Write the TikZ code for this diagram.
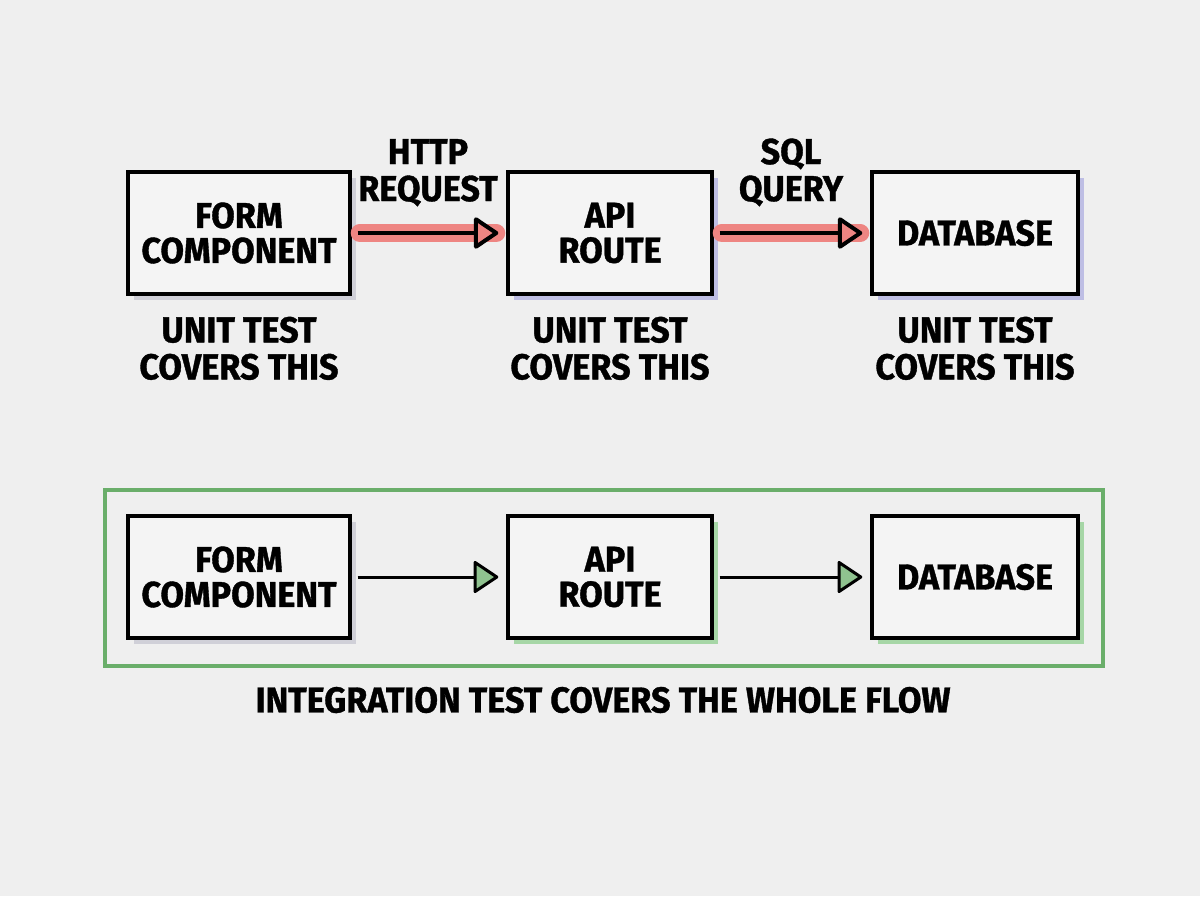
\documentclass[tikz,border=0pt]{standalone}
\usepackage{fontspec}
\setmainfont{Fira Sans}[FakeStretch=0.95, BoldFeatures={FakeBold=1}]
\usepackage{tikz}
\usetikzlibrary{positioning}
\usetikzlibrary{arrows.meta,shadows}
\definecolor{bgcol}{HTML}{EFEFEF}
\definecolor{boxcol}{HTML}{F4F4F4}
\definecolor{reqcol}{HTML}{EE8582}
\definecolor{okcol}{HTML}{6AAE6A}
\definecolor{lavcol}{HTML}{BEBEE4}
\definecolor{greycol}{HTML}{D0D0D8}
\definecolor{mintcol}{HTML}{A6D6A6}
\tikzset{>=latex}
\tikzset{
  part/.style={draw=black, line width=1.7pt, fill=boxcol, align=center,
    font=\bfseries\fontsize{18}{17.5}\selectfont,
    minimum height=61pt},
  tag/.style={align=center, font=\bfseries\fontsize{18}{18.5}\selectfont},
  shade/.style={drop shadow={fill=#1, opacity=1, shadow xshift=3pt, shadow yshift=-3pt}},
  tip/.style={-{Triangle[fill=#1, length=13pt, width=17pt, line join=round]}}
}

\begin{document}
\begin{tikzpicture}[x=0.5pt,y=-0.5pt]

\fill[bgcol] (0,0) rectangle (1200,896);

% Unit tests
\node[part, shade=greycol, minimum width=111pt] (form1) at (239,233) {FORM\\COMPONENT};
\node[part, shade=lavcol, minimum width=102pt] (api1) at (610,233) {API\\ROUTE};
\node[part, shade=lavcol, minimum width=103pt] (db1) at (975,233) {DATABASE};

\node[tag, below=7pt of form1] (unit1) {UNIT TEST\\COVERS THIS};
\node[tag, below=7pt of api1] (unit2) {UNIT TEST\\COVERS THIS};
\node[tag, below=7pt of db1] (unit3) {UNIT TEST\\COVERS THIS};

% Requests (highlighted)
\draw[reqcol, line width=9pt, line cap=round]
  ([xshift=4pt]form1.east) -- ([xshift=-5pt]api1.west);
\draw[line width=2pt, tip=reqcol]
  ([xshift=3pt]form1.east) -- ([xshift=-4pt]api1.west)
  node[tag, midway, above=9pt] (http) {HTTP\\REQUEST};

\draw[reqcol, line width=9pt, line cap=round]
  ([xshift=4pt]api1.east) -- ([xshift=-5pt]db1.west);
\draw[line width=2pt, tip=reqcol]
  ([xshift=3pt]api1.east) -- ([xshift=-4pt]db1.west)
  node[tag, midway, above=9pt] (sql) {SQL\\QUERY};

% Integration test
\draw[okcol, line width=2pt] (105,490) rectangle (1103,666);

\node[part, shade=greycol, minimum width=111pt] (form2) at (239,577) {FORM\\COMPONENT};
\node[part, shade=mintcol, minimum width=102pt] (api2) at (610,577) {API\\ROUTE};
\node[part, shade=mintcol, minimum width=103pt] (db2) at (975,577) {DATABASE};

\draw[line width=1.5pt, tip=okcol!75]
  ([xshift=3pt]form2.east) -- ([xshift=-4pt]api2.west);
\draw[line width=1.5pt, tip=okcol!75]
  ([xshift=3pt]api2.east) -- ([xshift=-4pt]db2.west);

\node[tag] (whole) at (603,700) {INTEGRATION TEST COVERS THE WHOLE FLOW};

\end{tikzpicture}
\end{document}
